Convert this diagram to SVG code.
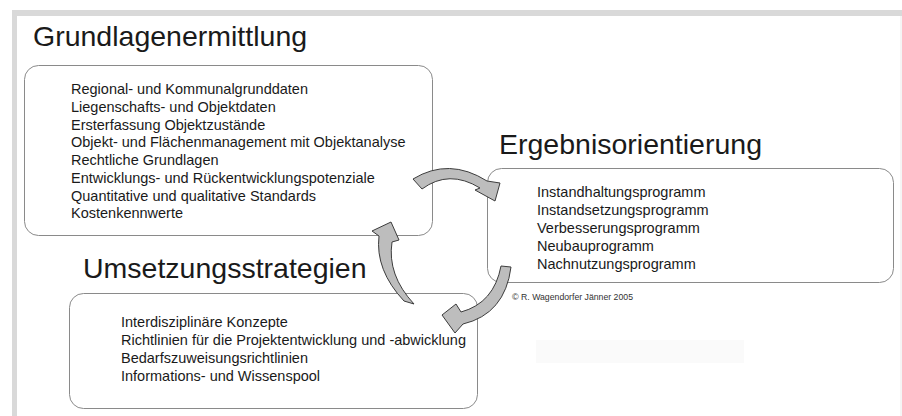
<svg xmlns="http://www.w3.org/2000/svg" width="902" height="416" viewBox="0 0 902 416">
<style>
.bg{fill:#ffffff}
.frame{fill:#d9d9d9}
.box{fill:#ffffff;stroke:#8a8a8a;stroke-width:1}
.title{font-family:"Liberation Sans",Arial,sans-serif;font-size:28.5px;fill:#1a1a1a}
.item{font-family:"Liberation Sans",Arial,sans-serif;font-size:14.5px;fill:#1a1a1a}
.small{font-family:"Liberation Sans",Arial,sans-serif;font-size:9px;fill:#333333}
.arrow{fill:#bdbdbd;stroke:#3c3c3c;stroke-width:1;stroke-linejoin:miter}
</style>
<rect class="bg" x="0" y="0" width="902" height="416"/>
<rect class="frame" x="12" y="10" width="890" height="6"/>
<rect class="frame" x="12" y="10" width="5" height="406"/>
<rect x="900.5" y="16" width="1" height="400" fill="#ececec"/>
<rect x="536" y="340" width="208" height="23" fill="#fafafa"/>

<g id="grundlagen">
<text class="title" x="33" y="46">Grundlagenermittlung</text>
<rect class="box" x="24.5" y="65.5" width="408" height="170" rx="14"/>
<text class="item" x="71" y="94">Regional- und Kommunalgrunddaten</text>
<text class="item" x="71" y="111.8">Liegenschafts- und Objektdaten</text>
<text class="item" x="71" y="129.5">Ersterfassung Objektzustände</text>
<text class="item" x="71" y="147.3">Objekt- und Flächenmanagement mit Objektanalyse</text>
<text class="item" x="71" y="165">Rechtliche Grundlagen</text>
<text class="item" x="71" y="182.8">Entwicklungs- und Rückentwicklungspotenziale</text>
<text class="item" x="71" y="200.6">Quantitative und qualitative Standards</text>
<text class="item" x="71" y="218.3">Kostenkennwerte</text>
</g>

<g id="ergebnis">
<text class="title" x="499" y="154">Ergebnisorientierung</text>
<rect class="box" x="487.5" y="168.5" width="406" height="114" rx="14"/>
<text class="item" x="537" y="197">Instandhaltungsprogramm</text>
<text class="item" x="537" y="215">Instandsetzungsprogramm</text>
<text class="item" x="537" y="233">Verbesserungsprogramm</text>
<text class="item" x="537" y="251">Neubauprogramm</text>
<text class="item" x="537" y="269">Nachnutzungsprogramm</text>
</g>

<g id="copyright">
<text class="small" x="512" y="300">©</text>
<text class="small" x="521" y="300" textLength="112" lengthAdjust="spacingAndGlyphs">R. Wagendorfer   Jänner 2005</text>
</g>

<g id="umsetzung">
<text class="title" x="83" y="278">Umsetzungsstrategien</text>
<rect class="box" x="69.5" y="293.5" width="408" height="115" rx="14"/>
<text class="item" x="121" y="327">Interdisziplinäre Konzepte</text>
<text class="item" x="121" y="345">Richtlinien für die Projektentwicklung und -abwicklung</text>
<text class="item" x="121" y="363">Bedarfszuweisungsrichtlinien</text>
<text class="item" x="121" y="381">Informations- und Wissenspool</text>
</g>

<g id="connectors">
<path class="arrow" d="M413,179 Q449,157 487,181 L500,183 L495,201 L475,190 L480,188 Q449,169 422,189 Z"/>
<path class="arrow" d="M404,301 Q375,270 379,236 L372,231 L391,222 L399,240 L392,242 Q387,275 414,304 Z"/>
<path class="arrow" d="M511,267 Q505,314 463,324 L455,333 L442,315 L456,304 L461,312 Q494,303 501,266 Z"/>
</g>
</svg>
